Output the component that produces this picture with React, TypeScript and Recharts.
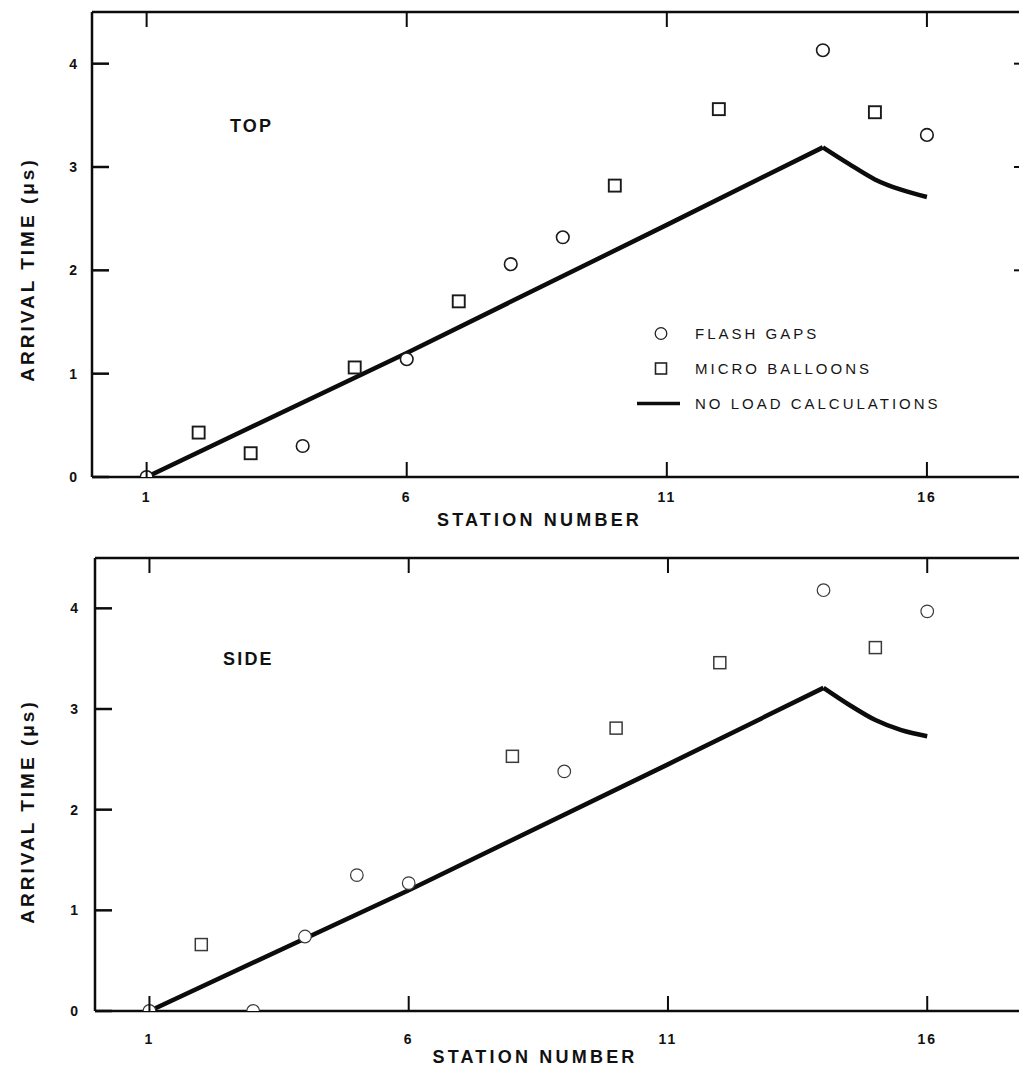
import React from 'react';
import { ComposedChart, Scatter, Line, XAxis, YAxis, Legend } from 'recharts';

const FONT = '"Liberation Sans", Arial, Helvetica, sans-serif';
const INK = '#0c0c0c';

// station numbers on the x axis, arrival times (µs) on the y axis
const stationTicks = [1, 6, 11, 16];
const timeTicks = [0, 1, 2, 3, 4];
const rightTimeTicks = [1, 2, 3, 4];

// TOP panel
const topFlashStations = [1, 4, 6, 8, 9, 14, 16];
const topFlashTimes = [0, 0.3, 1.14, 2.06, 2.32, 4.13, 3.31];
const topBalloonStations = [2, 3, 5, 7, 10, 12, 15];
const topBalloonTimes = [0.43, 0.23, 1.06, 1.7, 2.82, 3.56, 3.53];

// SIDE panel
const sideFlashStations = [1, 3, 4, 5, 6, 9, 14, 16];
const sideFlashTimes = [0, 0, 0.74, 1.35, 1.27, 2.38, 4.18, 3.97];
const sideBalloonStations = [2, 8, 10, 12, 15];
const sideBalloonTimes = [0.66, 2.53, 2.81, 3.46, 3.61];

// no load calculations: straight rise to station 14, then a decaying curve
const riseStations = [1, 6, 11, 14];
const topRiseTimes = [0, 1.2, 2.44, 3.19];
const sideRiseTimes = [0, 1.2, 2.45, 3.21];
const fallStations = [14, 14.5, 15, 15.5, 16];
const topFallTimes = [3.19, 3.03, 2.88, 2.78, 2.71];
const sideFallTimes = [3.21, 3.04, 2.89, 2.79, 2.73];

type Pt = { station: number; time: number };
const toPoints = (xs: number[], ys: number[]): Pt[] => xs.map((x, i) => ({ station: x, time: ys[i] }));

const circleShape = (stroke: number, color: string) => (p: any) => (
  <circle cx={p.cx} cy={p.cy} r={6.3} fill="#fff" stroke={color} strokeWidth={stroke} />
);

const squareShape = (stroke: number, color: string) => (p: any) => (
  <rect x={p.cx - 6} y={p.cy - 6} width={12} height={12} fill="#fff" stroke={color} strokeWidth={stroke} />
);

function LegendBox() {
  const row = { display: 'flex', alignItems: 'center', height: 35 } as const;
  return (
    <div style={{ fontFamily: FONT, fontSize: 15, letterSpacing: 3, color: '#151515', whiteSpace: 'nowrap' }}>
      <div style={row}>
        <svg width={67} height={35}>
          <circle cx={33} cy={17.5} r={5.8} fill="#fff" stroke="#222" strokeWidth={1.3} />
        </svg>
        <span>FLASH GAPS</span>
      </div>
      <div style={row}>
        <svg width={67} height={35}>
          <rect x={27.5} y={12} width={11} height={11} fill="#fff" stroke="#222" strokeWidth={1.6} />
        </svg>
        <span>MICRO BALLOONS</span>
      </div>
      <div style={row}>
        <svg width={67} height={35}>
          <line x1={9} y1={17.5} x2={52} y2={17.5} stroke={INK} strokeWidth={3.5} />
        </svg>
        <span>NO LOAD CALCULATIONS</span>
      </div>
    </div>
  );
}

type PanelProps = {
  name: string;
  nameLeft: number;
  nameTop: number;
  flash: Pt[];
  balloons: Pt[];
  rise: Pt[];
  fall: Pt[];
  top: number;
  height: number;
  marginTop: number;
  yAxisWidth: number;
  xAxisHeight: number;
  xTickDy: number;
  xLabelDx: number;
  xLabelDy: number;
  yLabelDy: number;
  yTickGap: number;
  markColor: string;
  markStroke: number;
  legend?: boolean;
  rightTicks?: boolean;
};

function Panel(props: PanelProps) {
  const {
    name, nameLeft, nameTop, flash, balloons, rise, fall, top, height, marginTop, yAxisWidth, xAxisHeight,
    xTickDy, xLabelDx, xLabelDy, yLabelDy, yTickGap, markColor, markStroke, legend, rightTicks,
  } = props;

  const YTick = (p: any) => (
    <g>
      <line x1={p.x} y1={p.y} x2={p.x + 17} y2={p.y} stroke={INK} strokeWidth={2.5} />
      <text x={p.x - yTickGap} y={p.y} textAnchor="end" dominantBaseline="central"
        fontFamily={FONT} fontSize={14} fontWeight={700} fill="#111">{p.payload.value}</text>
    </g>
  );
  const XTick = (p: any) => (
    <g>
      <line x1={p.x} y1={p.y} x2={p.x} y2={p.y - 15} stroke={INK} strokeWidth={2} />
      <text x={p.x} y={p.y + xTickDy} textAnchor="middle" dominantBaseline="central"
        fontFamily={FONT} fontSize={14} fontWeight={700} fill="#111" style={{ letterSpacing: 2 }}>{p.payload.value}</text>
    </g>
  );
  const TopTick = (p: any) => (
    <line x1={p.x} y1={p.y} x2={p.x} y2={p.y + 15} stroke={INK} strokeWidth={2} />
  );
  const RightTick = (p: any) =>
    rightTicks && p.payload.value >= 2 ? (
      <line x1={p.x - 5} y1={p.y} x2={p.x} y2={p.y} stroke={INK} strokeWidth={2} />
    ) : (
      <g />
    );

  const xLabel = {
    content: (p: any) => {
      const vb = p.viewBox;
      return (
        <text x={vb.x + vb.width / 2 + xLabelDx} y={vb.y + xLabelDy} textAnchor="middle" dominantBaseline="central"
          fontFamily={FONT} fontSize={18} fontWeight={700} fill="#111" style={{ letterSpacing: 3.2 }}>
          STATION NUMBER
        </text>
      );
    },
  };
  const yLabel = {
    content: (p: any) => {
      const vb = p.viewBox;
      const cx = vb.x + 27;
      const cy = vb.y + vb.height / 2 + yLabelDy;
      return (
        <text x={cx} y={cy} transform={`rotate(-90 ${cx} ${cy})`} textAnchor="middle" dominantBaseline="central"
          fontFamily={FONT} fontSize={19} fontWeight={700} fill="#111" style={{ letterSpacing: 3 }}>
          ARRIVAL TIME (μs)
        </text>
      );
    },
  };

  return (
    <div style={{ position: 'absolute', left: 0, top, width: 1020, height }}>
      <ComposedChart width={1020} height={height} margin={{ top: marginTop, right: 0, bottom: 0, left: 0 }}>
        <XAxis xAxisId="top" orientation="top" type="number" dataKey="station" domain={[-0.05, 17.77]}
          ticks={stationTicks} height={1} tickSize={0} tickMargin={0} tickLine={false} tick={TopTick}
          axisLine={{ stroke: INK, strokeWidth: 2.5 }} allowDataOverflow />
        <XAxis type="number" dataKey="station" domain={[-0.05, 17.77]} ticks={stationTicks} height={xAxisHeight}
          tickSize={0} tickMargin={0} tickLine={false} tick={XTick} axisLine={{ stroke: INK, strokeWidth: 2.5 }}
          label={xLabel} allowDataOverflow />
        <YAxis type="number" dataKey="time" domain={[0, 4.5]} ticks={timeTicks} width={yAxisWidth}
          tickSize={0} tickMargin={0} tickLine={false} tick={YTick} axisLine={{ stroke: INK, strokeWidth: 2.5 }}
          label={yLabel} allowDataOverflow />
        <YAxis yAxisId="right" orientation="right" type="number" dataKey="time" domain={[0, 4.5]} ticks={rightTimeTicks}
          width={1} tickSize={0} tickMargin={0} tickLine={false} tick={RightTick} axisLine={false} allowDataOverflow />
        {/* invisible series so the frame axes (top, right) get registered */}
        <Line xAxisId="top" yAxisId="right" data={rise} dataKey="time" stroke="none" dot={false}
          isAnimationActive={false} legendType="none" />
        <Line data={rise} dataKey="time" type="linear" stroke={INK} strokeWidth={4.5} dot={false}
          strokeLinejoin="miter" isAnimationActive={false} legendType="line" name="NO LOAD CALCULATIONS" />
        <Line data={fall} dataKey="time" type="monotone" stroke={INK} strokeWidth={4.5} dot={false}
          isAnimationActive={false} legendType="none" />
        <Scatter data={flash} dataKey="time" shape={circleShape(markStroke, markColor)} isAnimationActive={false}
          name="FLASH GAPS" />
        <Scatter data={balloons} dataKey="time" shape={squareShape(markStroke + 0.3, markColor)}
          isAnimationActive={false} name="MICRO BALLOONS" />
        {legend && (
          <Legend layout="vertical" align="center" verticalAlign="middle" content={() => <LegendBox />}
            wrapperStyle={{ position: 'absolute', left: 628, top: 316, width: 'auto' }} />
        )}
      </ComposedChart>
      <div style={{ position: 'absolute', left: nameLeft, top: nameTop, fontFamily: FONT, fontSize: 18, lineHeight: '18px',
        fontWeight: 700, letterSpacing: 2.2, color: '#111' }}>{name}</div>
    </div>
  );
}

export default function App() {
  return (
    <div style={{ position: 'absolute', left: 0, top: 0, width: 1020, height: 1081, background: '#fff' }}>
      <Panel name="TOP" nameLeft={230} nameTop={117}
        flash={toPoints(topFlashStations, topFlashTimes)}
        balloons={toPoints(topBalloonStations, topBalloonTimes)}
        rise={toPoints(riseStations, topRiseTimes)}
        fall={toPoints(fallStations, topFallTimes)}
        top={0} height={540} marginTop={11} yAxisWidth={92} xAxisHeight={63}
        xTickDy={20} xLabelDx={-16} xLabelDy={43} yLabelDy={25} yTickGap={15}
        markColor="#1a1a1a" markStroke={1.6} legend rightTicks />
      <Panel name="SIDE" nameLeft={223} nameTop={110}
        flash={toPoints(sideFlashStations, sideFlashTimes)}
        balloons={toPoints(sideBalloonStations, sideBalloonTimes)}
        rise={toPoints(riseStations, sideRiseTimes)}
        fall={toPoints(fallStations, sideFallTimes)}
        top={540} height={541} marginTop={17} yAxisWidth={95} xAxisHeight={70}
        xTickDy={28} xLabelDx={-22} xLabelDy={46} yLabelDy={27} yTickGap={17}
        markColor="#3a3a3a" markStroke={1.2} />
    </div>
  );
}
